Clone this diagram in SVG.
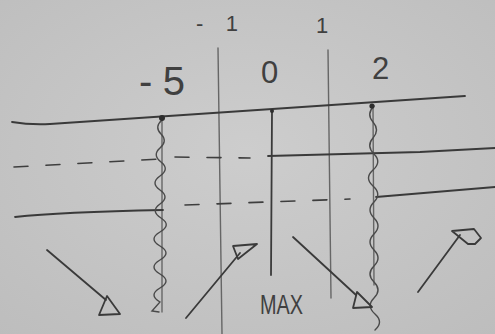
<svg xmlns="http://www.w3.org/2000/svg" width="495" height="334" viewBox="0 0 495 334">
<defs>
<radialGradient id="bg" cx="0.5" cy="0.45" r="0.75">
<stop offset="0" stop-color="#cdcdcd"/>
<stop offset="1" stop-color="#bdbdbd"/>
</radialGradient>
<style>
.ink{fill:none;stroke:#3a3a3a;stroke-width:1.8;stroke-linecap:round;stroke-linejoin:round}
.faint{fill:none;stroke:#666;stroke-width:1.4;stroke-linecap:round}
.dash{fill:none;stroke:#3e3e3e;stroke-width:1.6;stroke-linecap:round;stroke-dasharray:14 18}
.wave{fill:none;stroke:#4a4a4a;stroke-width:1.4;stroke-linecap:round}
.lbl{font-family:"Liberation Sans",Arial,sans-serif;fill:#404040}
.dot{fill:#2e2e2e}
</style>
</defs>
<rect width="495" height="334" fill="url(#bg)"/>

<g id="grid-lines">
<line class="faint" x1="218" y1="48" x2="222" y2="334"/>
<line class="faint" x1="328" y1="50" x2="331" y2="298"/>
<line class="faint" x1="162" y1="120" x2="162" y2="312"/>
<line class="faint" x1="373" y1="106" x2="374" y2="285"/>
</g>

<g id="connectors">
<path class="ink" d="M12,122 Q30,125 50,124 L465,96"/>
<line class="ink" x1="272" y1="111" x2="271" y2="275"/>
<path class="ink" d="M268,156 L420,152 L495,148"/>
<path class="ink" d="M15,217 Q60,212 163,210"/>
<path class="ink" d="M376,197 L495,187"/>
<line class="dash" x1="14" y1="167" x2="160" y2="159"/>
<line class="dash" x1="175" y1="157" x2="250" y2="158" stroke-dasharray="14 32"/>
<line class="dash" x1="185" y1="205" x2="350" y2="199" stroke-dasharray="11 19"/>
<path class="wave" d="M162,120 q-8,7 -1,14 t-1,14 t1,14 t-1,14 t0,14 t0,14 t1,14 t-1,14 t0,14 t0,14 t0,14 t0,14 t0,14 L152,311 L159,312"/>
<path class="wave" d="M374,106 q-8,8 -1,16 t0,16 t1,16 t-1,16 t0,16 t1,16 t0,16 t0,16 t0,16 t0,16 t0,16 t0,16 t1,16 t0,16"/>
<circle class="dot" cx="162" cy="118" r="3"/>
<circle class="dot" cx="272" cy="111" r="2"/>
<circle class="dot" cx="372" cy="106" r="2.6"/>
</g>

<g id="arrow1">
<line class="ink" x1="47" y1="250" x2="106" y2="300"/>
<path class="ink" d="M107,296 L99,315 L120,314 Z"/>
</g>
<g id="arrow2">
<line class="ink" x1="186" y1="318" x2="240" y2="253"/>
<path class="ink" d="M233,246 L257,244 L238,259 Z"/>
</g>
<g id="arrow3">
<line class="ink" x1="293" y1="237" x2="356" y2="295"/>
<path class="ink" d="M357,292 L353,308 L372,307 Z"/>
</g>
<g id="arrow4">
<line class="ink" x1="418" y1="292" x2="460" y2="235"/>
<path class="ink" d="M452,231 L474,229 L481,238 L475,244 L468,244 Z"/>
</g>

<g id="labels">
<text class="lbl" x="139" y="95" font-size="40" textLength="46" lengthAdjust="spacing">-5</text>
<text class="lbl" x="261" y="83" font-size="31">0</text>
<text class="lbl" x="372" y="79" font-size="31">2</text>
<text class="lbl" x="196" y="31" font-size="22" textLength="42" lengthAdjust="spacing">-1</text>
<text class="lbl" x="316" y="33" font-size="22">1</text>
<text class="lbl" x="260" y="314" font-size="28" textLength="43" lengthAdjust="spacingAndGlyphs">MAX</text>
</g>
</svg>
